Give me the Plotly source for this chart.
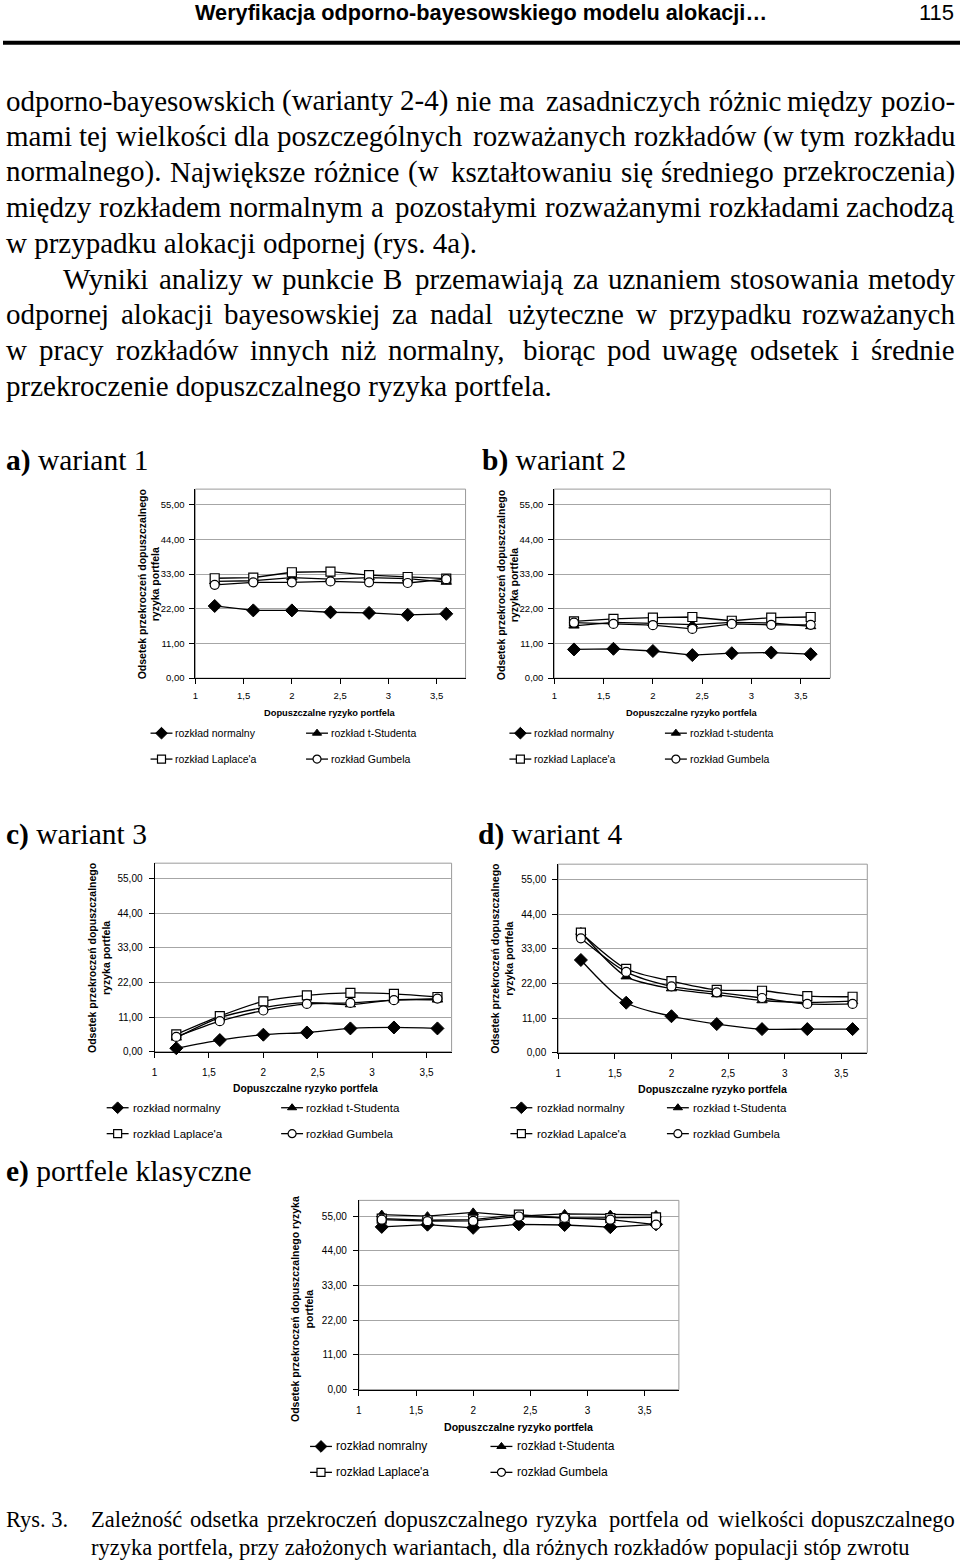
import plotly.graph_objects as go

W, H = 960, 1568

# ---------------- data ----------------
x_vals = [1.2, 1.6, 2.0, 2.4, 2.8, 3.2, 3.6]
y_tick_vals = [0, 11, 22, 33, 44, 55]
y_tick_text = ["0,00", "11,00", "22,00", "33,00", "44,00", "55,00"]
x_tick_vals = [1, 1.5, 2, 2.5, 3, 3.5]
x_tick_text = ["1", "1,5", "2", "2,5", "3", "3,5"]

a_normal = [22.9, 21.5, 21.5, 20.9, 20.7, 20.1, 20.4]
a_t = [30.7, 30.9, 31.9, 31.4, 31.9, 31.6, 30.5]
a_laplace = [31.7, 31.9, 33.6, 33.8, 32.7, 32.1, 31.6]
a_gumbel = [29.6, 30.4, 30.4, 30.7, 30.4, 30.2, 31.4]

b_normal = [9.1, 9.3, 8.6, 7.3, 7.9, 8.1, 7.6]
b_t = [16.6, 17.7, 17.4, 17.0, 17.7, 17.5, 16.4]
b_laplace = [18.0, 18.8, 19.2, 19.4, 18.2, 19.2, 19.4]
b_gumbel = [17.6, 17.2, 16.8, 15.6, 17.2, 16.9, 16.9]

c_normal = [1.1, 3.7, 5.4, 6.1, 7.4, 7.7, 7.4]
c_t = [4.4, 10.8, 14.0, 15.6, 15.0, 16.5, 16.5]
c_laplace = [5.5, 11.3, 16.0, 17.9, 18.7, 18.4, 17.4]
c_gumbel = [4.7, 9.7, 13.1, 15.2, 15.5, 16.4, 16.9]

d_normal = [29.5, 15.9, 11.6, 9.1, 7.5, 7.5, 7.5]
d_t = [38.4, 24.2, 20.4, 18.5, 16.6, 16.0, 16.4]
d_laplace = [38.2, 26.7, 22.8, 20.0, 19.7, 18.0, 17.8]
d_gumbel = [36.4, 25.7, 21.1, 19.2, 17.4, 15.5, 15.5]

e_normal = [51.6, 52.3, 51.3, 52.4, 52.2, 51.5, 52.4]
e_t = [55.5, 55.0, 56.2, 55.0, 55.7, 55.5, 55.4]
e_laplace = [54.2, 53.7, 53.9, 55.5, 54.4, 54.4, 54.6]
e_gumbel = [53.9, 53.4, 53.5, 54.9, 54.5, 53.9, 52.3]

legend_a = ["rozkład normalny", "rozkład t-Studenta", "rozkład Laplace'a", "rozkład Gumbela"]
legend_b = ["rozkład normalny", "rozkład t-studenta", "rozkład Laplace'a", "rozkład Gumbela"]
legend_c = ["rozkład normalny", "rozkład t-Studenta", "rozkład Laplace'a", "rozkład Gumbela"]
legend_d = ["rozkład normalny", "rozkład t-Studenta", "rozkład Lapalce'a", "rozkład Gumbela"]
legend_e = ["rozkład nomralny", "rozkład t-Studenta", "rozkład Laplace'a", "rozkład Gumbela"]

x_title = "Dopuszczalne ryzyko portfela"
y_title_std = "Odsetek przekroczeń dopuszczalnego<br>ryzyka portfela"
y_title_e = "Odsetek przekroczeń dopuszczalnego ryzyka<br>portfela"

header_title = "Weryfikacja odporno-bayesowskiego modelu alokacji…"
page_no = "115"

body_lines = [
    "odporno-bayesowskich (warianty 2-4) nie ma zasadniczych różnic między pozio-",
    "mami tej wielkości dla poszczególnych rozważanych rozkładów (w tym rozkładu",
    "normalnego). Największe różnice (w kształtowaniu się średniego przekroczenia)",
    "między rozkładem normalnym a pozostałymi rozważanymi rozkładami zachodzą",
    "w przypadku alokacji odpornej (rys. 4a).",
    "Wyniki analizy w punkcie B przemawiają za uznaniem stosowania metody",
    "odpornej alokacji bayesowskiej za nadal użyteczne w przypadku rozważanych",
    "w pracy rozkładów innych niż normalny, biorąc pod uwagę odsetek i średnie",
    "przekroczenie dopuszczalnego ryzyka portfela.",
]
caption_lines = [
    "Zależność odsetka przekroczeń dopuszczalnego ryzyka portfela od wielkości dopuszczalnego",
    "ryzyka portfela, przy założonych wariantach, dla różnych rozkładów populacji stóp zwrotu",
]

# ---------------- helpers ----------------
SERIF = "Liberation Serif, Times New Roman, serif"
SANS = "Liberation Sans, Arial, sans-serif"

def px(x):
    return x / W

def py(y):
    return 1 - y / H

TW = {}
for ch, w in zip("abcdefghijklmnopqrstuvwxyz",
                 [444, 500, 444, 500, 444, 333, 500, 500, 278, 278, 500, 278, 778,
                  500, 500, 500, 500, 333, 389, 278, 500, 500, 722, 500, 500, 444]):
    TW[ch] = w
for ch, w in zip("ABCDEFGHIJKLMNOPQRSTUVWXYZ",
                 [722, 667, 667, 722, 611, 556, 722, 722, 333, 389, 722, 611, 889,
                  722, 722, 556, 722, 667, 556, 611, 722, 722, 944, 722, 722, 611]):
    TW[ch] = w
for ch in "0123456789":
    TW[ch] = 500
TW.update({" ": 250, "(": 333, ")": 333, ".": 250, ",": 250, "-": 333,
           "ą": 444, "ę": 444, "ó": 500, "ś": 389, "ć": 444, "ż": 444, "ź": 444,
           "ł": 278, "ń": 500})

def word_w(word, fs):
    return sum(TW.get(c, 500) for c in word) * fs / 1000.0

annotations = []
shapes = []

def add_text(x, y, text, size, family=SERIF, xanchor="left", color="black", angle=0):
    if angle == 0:
        if xanchor == "left":
            x -= 2
        elif xanchor == "right":
            x += 2
    annotations.append(dict(x=px(x), y=py(y), xref="paper", yref="paper", text=text,
                            showarrow=False, xanchor=xanchor, yanchor="middle",
                            textangle=angle, borderpad=0, borderwidth=0,
                            font=dict(family=family, size=size, color=color)))

def justified(line, x0, x1, y, fs):
    words = line.split(" ")
    widths = [word_w(w, fs) for w in words]
    n = len(words)
    gap = (x1 - x0 - sum(widths)) / (n - 1)
    half = (n + 1) // 2
    x = x0
    for i in range(half):
        add_text(x, y, words[i], fs)
        x += widths[i] + gap
    x = x1
    for i in range(n - 1, half - 1, -1):
        add_text(x, y, words[i], fs, xanchor="right")
        x -= widths[i] + gap

# ---------------- page text ----------------
add_text(479, 13, "<b>" + header_title + "</b>", 21.7, family=SANS, xanchor="center")
add_text(952, 13, page_no, 22, family=SANS, xanchor="right")
shapes.append(dict(type="line", xref="paper", yref="paper", x0=0, x1=1,
                   y0=py(43), y1=py(43), line=dict(color="black", width=4)))

FS = 29
RIGHT = 953
line_y = [101 + 35.75 * i for i in range(9)]
justify_flags = [True, True, True, True, False, True, True, True, False]
starts = [5, 5, 5, 5, 5, 62, 5, 5, 5]
for ln, yy, jf, st in zip(body_lines, line_y, justify_flags, starts):
    if jf:
        justified(ln, st, RIGHT, yy, FS)
    else:
        add_text(st, yy, ln, FS)

add_text(5, 462, "<b>a)</b> wariant 1", 29.5)
add_text(482, 462, "<b>b)</b> wariant 2", 29.5)
add_text(5, 838, "<b>c)</b> wariant 3", 29.5)
add_text(478, 838, "<b>d)</b> wariant 4", 29.5)
add_text(5, 1176, "<b>e)</b> portfele klasyczne", 29.5)

CFS = 22.5
add_text(5, 1525, "Rys. 3.", CFS)
justified(caption_lines[0], 90, RIGHT, 1525, CFS)
add_text(90, 1553, caption_lines[1], CFS)

# ---------------- charts ----------------
charts = [
    dict(series=[a_normal, a_t, a_laplace, a_gumbel], left=193, right=464, top=491, bottom=680.7,
         xmax=3.8, shape="linear", legend=legend_a, ytitle=y_title_std, ytx=146, yty=587,
         xtx=328, xty=716, rows=(736, 762), cols=(159, 315), tcols=(175, 331), lfs=10.5,
         tfs=9.5, xtfs=9.3, xso=4, yso=3),
    dict(series=[b_normal, b_t, b_laplace, b_gumbel], left=553, right=830, top=491, bottom=680.7,
         xmax=3.8, shape="linear", legend=legend_b, ytitle=y_title_std, ytx=506, yty=587,
         xtx=691, xty=716, rows=(736, 762), cols=(519, 675), tcols=(535, 691), lfs=10.5,
         tfs=9.5, xtfs=9.3, xso=4, yso=3),
    dict(series=[c_normal, c_t, c_laplace, c_gumbel], left=152, right=450, top=866.5, bottom=1055.7,
         xmax=3.73, shape="spline", legend=legend_c, ytitle=y_title_std, ytx=97, yty=962,
         xtx=303, xty=1093, rows=(1112, 1138), cols=(115, 290), tcols=(132, 306), lfs=11.5,
         tfs=10, xtfs=10.3, xso=6, yso=4),
    dict(series=[d_normal, d_t, d_laplace, d_gumbel], left=557, right=867, top=867.5, bottom=1056.7,
         xmax=3.73, shape="spline", legend=legend_d, ytitle=y_title_std, ytx=501, yty=962,
         xtx=712, xty=1093, rows=(1112, 1138), cols=(520, 677), tcols=(538, 694), lfs=11.5,
         tfs=10, xtfs=10.6, xso=6, yso=4),
    dict(series=[e_normal, e_t, e_laplace, e_gumbel], left=357, right=678, top=1205, bottom=1395,
         xmax=3.8, shape="linear", legend=legend_e, ytitle=y_title_e, ytx=300, yty=1314,
         xtx=517, xty=1432, rows=(1452, 1478), cols=(319, 500), tcols=(336, 518), lfs=12,
         tfs=10, xtfs=10.6, xso=6, yso=4),
]

markers = [
    dict(symbol="diamond", size=10, color="black", line=dict(color="black", width=1)),
    dict(symbol="triangle-up", size=9, color="black", line=dict(color="black", width=1)),
    dict(symbol="square", size=9, color="white", line=dict(color="black", width=1.2)),
    dict(symbol="circle", size=9, color="white", line=dict(color="black", width=1.2)),
]

fig = go.Figure()
layout_axes = {}

for i, ch in enumerate(charts):
    n = i + 1
    xa = "x" if n == 1 else f"x{n}"
    ya = "y" if n == 1 else f"y{n}"
    xkey = "xaxis" if n == 1 else f"xaxis{n}"
    ykey = "yaxis" if n == 1 else f"yaxis{n}"
    for s_idx, ys in enumerate(ch["series"]):
        fig.add_trace(go.Scatter(
            x=x_vals, y=ys, mode="lines+markers", xaxis=xa, yaxis=ya,
            line=dict(color="black", width=1.3, shape=ch["shape"], smoothing=0.8),
            marker=markers[s_idx], showlegend=False, cliponaxis=False))
    tick_font = dict(family=SANS, size=ch["tfs"], color="black")
    layout_axes[xkey] = dict(domain=[px(ch["left"]), px(ch["right"])], range=[1, ch["xmax"]],
                             anchor=ya, tickvals=x_tick_vals, ticktext=x_tick_text,
                             showline=True, linecolor="black", linewidth=1, ticks="outside",
                             ticklen=5, tickcolor="black", showgrid=False, zeroline=False,
                             tickfont=tick_font, ticklabelstandoff=ch["xso"])
    layout_axes[ykey] = dict(domain=[py(ch["bottom"]), py(ch["top"])], range=[0, 60],
                             anchor=xa, tickvals=y_tick_vals, ticktext=y_tick_text,
                             showline=True, linecolor="black", linewidth=1, ticks="outside",
                             ticklen=5, tickcolor="black", showgrid=True, gridcolor="#a6a6a6",
                             gridwidth=1, zeroline=False, tickfont=tick_font,
                             ticklabelstandoff=ch["yso"])
    shapes.append(dict(type="rect", xref=f"{xa} domain", yref=f"{ya} domain", x0=0, x1=1, y0=0, y1=1,
                       line=dict(color="#9a9a9a", width=1), layer="below"))
    add_text(ch["ytx"], ch["yty"], "<b>" + ch["ytitle"] + "</b>", 10.5, family=SANS,
             xanchor="center", angle=-90)
    add_text(ch["xtx"], ch["xty"], "<b>" + x_title + "</b>", ch["xtfs"], family=SANS, xanchor="center")
    for k, name in enumerate(ch["legend"]):
        r = k // 2
        c = k % 2
        yy = ch["rows"][r]
        cx = ch["cols"][c]
        fig.add_trace(go.Scatter(x=[cx - 11, cx + 11], y=[yy, yy], mode="lines", xaxis="x6", yaxis="y6",
                                 line=dict(color="black", width=1.3), showlegend=False, hoverinfo="skip"))
        mk = dict(markers[k])
        mk["size"] = mk["size"] - 1
        fig.add_trace(go.Scatter(x=[cx], y=[yy], mode="markers", xaxis="x6", yaxis="y6",
                                 marker=mk, showlegend=False, hoverinfo="skip"))
        add_text(ch["tcols"][c], yy, name, ch["lfs"], family=SANS)

layout_axes["xaxis6"] = dict(domain=[0, 1], range=[0, W], visible=False, anchor="y6", fixedrange=True)
layout_axes["yaxis6"] = dict(domain=[0, 1], range=[H, 0], visible=False, anchor="x6", fixedrange=True)

fig.update_layout(
    width=W, height=H, margin=dict(l=0, r=0, t=0, b=0),
    paper_bgcolor="white", plot_bgcolor="rgba(0,0,0,0)",
    showlegend=False, annotations=annotations, shapes=shapes,
    **layout_axes,
)

fig.write_html("out.html")
